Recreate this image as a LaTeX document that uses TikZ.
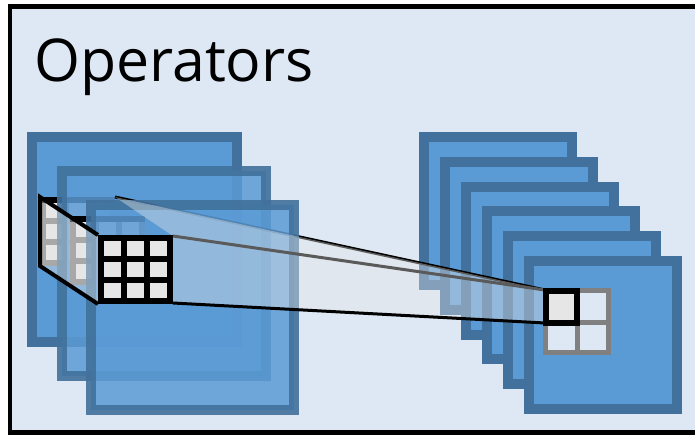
\documentclass[tikz,border=0pt]{standalone}
\usepackage{fontspec}
\setmainfont{Open Sans}
\definecolor{bgc}{RGB}{222,232,244}
\definecolor{bord}{RGB}{65,113,156}
\definecolor{fillc}{RGB}{91,155,213}
\definecolor{cellc}{RGB}{230,230,230}
\definecolor{lgray}{RGB}{128,128,128}
\definecolor{edgegray}{RGB}{90,90,90}
\begin{document}
\begin{tikzpicture}[x=1pt,y=-1pt,
  fmap/.style={draw=bord,fill=fillc,line width=10pt},
  fmapt/.style={fmap,fill opacity=0.85,draw opacity=0.9},
  edgeline/.style={line width=3pt,black},
  gedge/.style={line width=3pt,draw=edgegray},
  face/.style={fill=cellc,fill opacity=0.4},
  pics/cellgrid/.style 2 args={code={
    \fill[cellc] (0,0) rectangle (75,69);
    \draw[line width=6pt,#2] (26,3) -- (26,66) (49,3) -- (49,66) (3,24) -- (72,24) (3,45) -- (72,45);
    \draw[line width=6pt,#2] (3,3) rectangle (72,66);
    \draw[line width=6pt,#1] (0,3) -- (75,3);
  }}]
\path[use as bounding box] (0,0) rectangle (695,434);
\begin{scope}
  \clip (0,0) rectangle (695,434);
  \fill[white] (0,0) rectangle (695,434);
  \draw[line width=4.5pt,fill=bgc] (10,6.7) rectangle (720,432.5);
\end{scope}
\node[anchor=base west,font=\fontsize{59}{70}\selectfont,inner sep=0pt] (title) at (34,81) {Operators};

% named corners
\coordinate (g1tl) at (40,197);
\coordinate (g1bl) at (40,266);
\coordinate (g1tr) at (115,197);
\coordinate (g3tl) at (98,235);
\coordinate (g3bl) at (98,304);
\coordinate (g3tr) at (173,236);
\coordinate (g3br) at (173,303);
\coordinate (ctl) at (545,290);
\coordinate (cbl) at (545,323);

% right stack of feature maps
\foreach \i in {0,...,5} {
  \draw[fmap] ({424+21*\i},{137+24.8*\i}) rectangle ++(148,148);
}

% left stack of feature maps
\draw[fmap] (32,137) rectangle (237,342);
\pic at (40,197) {cellgrid={black}{lgray}};
\draw[fmapt] (62,171) rectangle (266,376);
\pic at (70,216) {cellgrid={black}{lgray}};
\draw[edgeline] (g1tr) -- (ctl);
\draw[fmapt] (91,205) rectangle (294,410);
\fill[face] (g1tr) -- (ctl) -- (g3tr) -- cycle;
\fill[face] (g1tl) -- (g3tl) -- (g3bl) -- (g1bl) -- cycle;
\draw[edgeline,line width=4pt] (g3tl) -- (g1tl) -- (g1bl) -- (g3bl);
\pic at (98,235) {cellgrid={black}{black}};

% beam
\fill[face] (g3tr) -- (ctl) -- (cbl) -- (g3br) -- cycle;
\draw[gedge] (g3tr) -- (ctl);
\draw[edgeline] (g3br) -- (cbl);

% output cell
\fill[bgc] (543,288) rectangle (611,355);
\fill[cellc] (543,288) rectangle (577,322);
\draw[line width=5pt,lgray] (545.5,290.5) rectangle (608.5,352.5) (577,290.5) -- (577,352.5) (545.5,322.5) -- (608.5,322.5);
\draw[line width=6pt] (546,291) rectangle (576.5,322.5);
\end{tikzpicture}
\end{document}
